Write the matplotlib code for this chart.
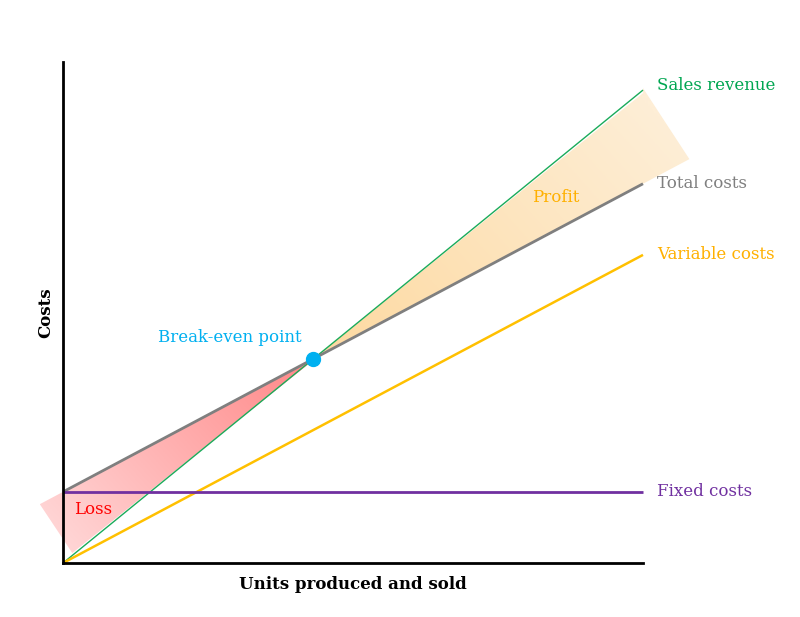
import numpy as np
import matplotlib.pyplot as plt
from matplotlib.patches import Polygon
from matplotlib.colors import LinearSegmentedColormap

# chart values (arbitrary units)
units = [0, 100]
sales_revenue = [0, 94.4]
variable_costs = [0, 61.5]
fixed_costs = [14.2, 14.2]
total_costs = [f + v for f, v in zip(fixed_costs, variable_costs)]

line_labels = ['Sales revenue', 'Total costs', 'Variable costs', 'Fixed costs']
line_colors = ['#1aab5a', '#7f7f7f', '#ffc000', '#7030a0']
text_colors = ['#00a651', '#7f7f7f', '#ffb000', '#7030a0']
label_offsets = [3, 0, 0, 0]

# break-even point from the two lines
s_rate = (sales_revenue[1] - sales_revenue[0]) / (units[1] - units[0])
v_rate = (variable_costs[1] - variable_costs[0]) / (units[1] - units[0])
be_x = fixed_costs[0] / (s_rate - v_rate)
be_y = s_rate * be_x

plt.rcParams['font.family'] = ['DejaVu Serif']

fig = plt.figure(figsize=(8, 6.17), dpi=100)
ax = fig.add_axes([0.07875, 0.0875, 0.725, 0.812])
ax.set_xlim(0, 100)
ax.set_ylim(0, 100)


def tc(x):
    return fixed_costs[0] + v_rate * x


def gradient_fill(verts, start, end, c0, c1):
    poly = Polygon(verts, closed=True, facecolor='none', edgecolor='none',
                   transform=ax.transData)
    xs = [p[0] for p in verts]
    ys = [p[1] for p in verts]
    x0, x1, y0, y1 = min(xs), max(xs), min(ys), max(ys)
    gx, gy = np.meshgrid(np.linspace(x0, x1, 300), np.linspace(y0, y1, 300))
    dx, dy = end[0] - start[0], end[1] - start[1]
    t = ((gx - start[0]) * dx + (gy - start[1]) * dy) / (dx * dx + dy * dy)
    t = np.clip(t, 0, 1)
    cmap = LinearSegmentedColormap.from_list('g', [c0, c1])
    im = ax.imshow(t, cmap=cmap, extent=[x0, x1, y0, y1], origin='lower',
                   aspect='auto', interpolation='bilinear', zorder=1)
    im.set_clip_path(poly)
    im.set_clip_box(fig.bbox)


# loss area (extends past the y axis)
loss_far = (-4.0, tc(-4.0))
loss_low = (1.6, 2.0)
gradient_fill([(be_x + 0.3, be_y), (0, tc(0)), loss_far, loss_low],
              (be_x, be_y), ((loss_far[0] + loss_low[0]) / 2, (loss_far[1] + loss_low[1]) / 2),
              '#ff8787', '#ffd4d4')

# profit area (extends past the right end)
p_far = (108.0, tc(108.0))
p_top = (100.0, 94.8)
gradient_fill([(be_x, be_y), (100, sales_revenue[1] - 0.6), p_top, p_far, (100, tc(100))],
              (be_x, be_y), ((p_far[0] + p_top[0]) / 2, (p_far[1] + p_top[1]) / 2),
              '#fdd9a0', '#feeed6')

ax.set_xlim(0, 100)
ax.set_ylim(0, 100)

series = [sales_revenue, total_costs, variable_costs, fixed_costs]
widths = [1.0, 2.0, 1.8, 2.0]
for vals, lab, lc, tcol, lw, dy in zip(series, line_labels, line_colors, text_colors,
                                       widths, label_offsets):
    ax.plot(units, vals, color=lc, lw=lw, zorder=3, clip_on=False,
            solid_capstyle='butt')
    ax.annotate(lab, (units[1], vals[1]), xytext=(10, dy), textcoords='offset points',
                color=tcol, fontsize=12, va='center', ha='left',
                annotation_clip=False)

ax.plot([be_x], [be_y], 'o', color='#00b0f0', ms=10, zorder=5, clip_on=False)
ax.annotate('Break-even point', (be_x, be_y), xytext=(-60, 9), textcoords='offset points',
            color='#00b0f0', fontsize=12, ha='center', va='bottom')
ax.text(85, 73, 'Profit', color='#ffb000', fontsize=12, ha='center', va='center')
ax.text(5.2, 10.6, 'Loss', color='#ff0000', fontsize=12, ha='center', va='center')

for side in ['top', 'right']:
    ax.spines[side].set_visible(False)
for side in ['left', 'bottom']:
    ax.spines[side].set_linewidth(2)
    ax.spines[side].set_zorder(6)
ax.set_xticks([])
ax.set_yticks([])
ax.set_xlabel('Units produced and sold', fontsize=12, fontweight='bold', labelpad=9)
ax.set_ylabel('Costs', fontsize=12, fontweight='bold', labelpad=6)

fig.savefig('out.png', dpi=100)
